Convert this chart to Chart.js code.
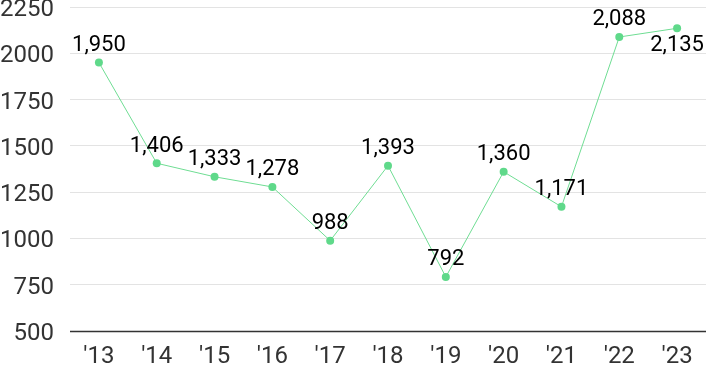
<!DOCTYPE html>
<html><head><meta charset="utf-8">
<script src="https://cdn.jsdelivr.net/npm/chart.js@4"></script>
<style>html,body{margin:0;padding:0;background:#fff}#wrap{width:710px;height:371px}</style>
</head><body><div id="wrap"><canvas id="c" width="710" height="371"></canvas></div>
<script>
const categories = ["'13","'14","'15","'16","'17","'18","'19","'20","'21","'22","'23"];
const values = [1950,1406,1333,1278,988,1393,792,1360,1171,2088,2135];
const yTicks = [500,750,1000,1250,1500,1750,2000,2250];

const labelPlugin = {
  id:'lbl',
  afterDatasetsDraw(chart){
    const ctx = chart.ctx;
    const meta = chart.getDatasetMeta(0);
    ctx.save();
    ctx.font = '22px Roboto';
    ctx.fillStyle = '#000';
    ctx.textAlign = 'center';
    ctx.textBaseline = 'middle';
    meta.data.forEach((pt,i)=>{
      const v = values[i];
      const below = pt.y - 27 < chart.chartArea.top;
      ctx.fillText(v.toLocaleString('en-US'), pt.x, below ? pt.y + 17 : pt.y - 17);
    });
    ctx.restore();
  }
};

new Chart(document.getElementById('c'), {
  type:'line',
  data:{labels:categories, datasets:[{data:values, borderColor:'#6fdd93', backgroundColor:'#5fd98a', borderWidth:1, pointRadius:4, pointHoverRadius:4, pointBackgroundColor:'#5fd98a', pointBorderWidth:0, tension:0}]},
  options:{
    responsive:false, animation:false,
    layout:{padding:{top:7,right:0,left:0,bottom:0}},
    plugins:{legend:{display:false}, tooltip:{enabled:false}},
    scales:{
      x:{offset:true, grid:{display:false, drawTicks:false}, border:{display:false},
         afterFit(s){ s.height = 40; s.paddingLeft = 0; s.paddingRight = 0; },
         ticks:{color:'#333', font:{family:'Roboto', size:24}, padding:12}},
      y:{min:500, max:2250, afterBuildTicks(s){s.ticks = yTicks.map(v=>({value:v}));},
         afterFit(s){ s.width = 70; s.paddingTop = 0; s.paddingBottom = 0; },
         grid:{color:'#e3e3e3', lineWidth:1, drawTicks:false}, border:{display:false},
         ticks:{color:'#333', font:{family:'Roboto', size:24, lineHeight:0.25}, padding:16, callback:(v)=>['', String(v)]}}
    }
  },
  plugins:[labelPlugin, {
    id:'baseline',
    afterDraw(chart){
      const {ctx, chartArea:a, scales:{y}} = chart;
      const yy = Math.round(y.getPixelForValue(500))+0.5;
      ctx.save(); ctx.strokeStyle='#333'; ctx.lineWidth=1.5;
      ctx.beginPath(); ctx.moveTo(a.left, yy); ctx.lineTo(a.right, yy); ctx.stroke(); ctx.restore();
    }
  }]
});
</script></body></html>
